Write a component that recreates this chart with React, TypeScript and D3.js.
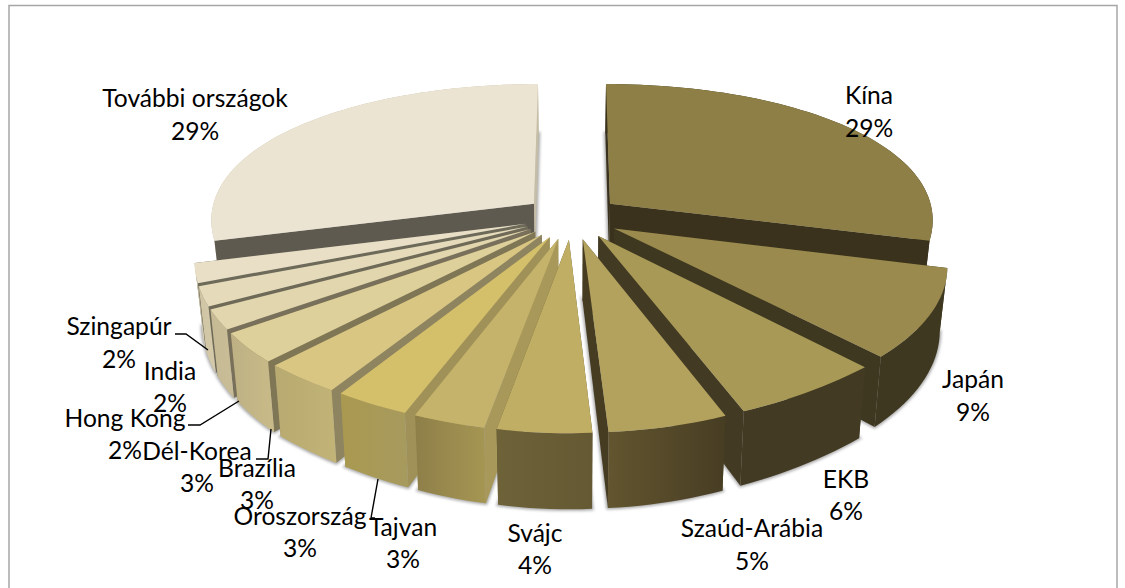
import * as d3 from "d3";

// Shares of the foreign holdings, listed clockwise from twelve o'clock.
const categories = ["Kína", "Japán", "EKB", "Szaúd-Arábia", "Svájc", "Tajvan", "Oroszország", "Brazília", "Dél-Korea", "Hong Kong", "India", "Szingapúr", "További országok"];
const shares = [29, 9, 6, 5, 4, 3, 3, 3, 3, 2, 2, 2, 29];

// Palette per slice.
const topColors = ["#8E7F46", "#9A8A4E", "#A89A56", "#B3A15E", "#C0AE65", "#C6B36B", "#D4BF6B", "#D9C683", "#DED09A", "#E1D6AE", "#E5DBBB", "#E8DFC6", "#EBE4D2"];
const wallLeft = ["#3A321C", "#3F3820", "#433A23", "#62552F", "#6E6239", "#8E7F49", "#A99950", "#B8AA70", "#BDB084", "#C6BA95", "#CFC5A3", "#D6CDB0", "#C5BDA6"];
const wallRight = ["#3A321C", "#3F3820", "#433A23", "#473D23", "#655933", "#A69653", "#A79A5E", "#C2B377", "#C9BB88", "#C9BD98", "#D4CAAA", "#D9D0B5", "#C5BDA6"];
const radialColors = ["#3A321C", "#3F3820", "#433A23", "#463C22", "#5E5430", "#A8995A", "#9F9158", "#8E8560", "#7F7655", "#78705A", "#6F6A58", "#6E6A5A", "#5F5A50"];

// Label anchors (horizontal centre, first line and second line centres).
const labelAnchors: [number, number, number][] = [
  [869, 94, 127], [973, 378, 411], [846, 478, 510], [752, 527, 560], [535, 532, 564],
  [403, 526, 558], [300, 515, 547], [257, 467, 499], [197, 450, 482], [125, 417, 449],
  [170, 370, 402], [119, 325, 358], [195, 97, 130],
];

// Elbow leader lines for the crowded labels.
const leaders: [number, number][][] = [
  [[175, 334], [186, 334], [208, 350]],
  [[188, 425], [200, 425], [239, 401]],
  [[256, 459], [268, 459], [271, 429]],
  [[375, 518], [371, 518], [378, 479]],
];

const WIDTH = 1125;
const HEIGHT = 588;
const CX = 572;
const CY = 217;
const RY = 147;
const PERSPECTIVE_Y = 0.19;
const EXPLODE = 0.15;
const THICKNESS = 59.5;
const BOTTOM_SHRINK = 0.98;

// Horizontal radius grows towards the viewer and levels off at the front of the pie.
const radiusAtDepth = d3.scaleLinear().domain([-1.15, 0.16, 0.85, 1.2]).range([285, 329, 383, 383]);

type Pt = [number, number];

// Projects a point of the unit pie plane onto the screen, on the top or the bottom face.
function project(x: number, y: number, bottom = false): Pt {
  const wy = 1 - PERSPECTIVE_Y * y;
  const sx = radiusAtDepth(y) * x;
  const sy = CY + (RY * y) / wy;
  return bottom ? [CX + sx * BOTTOM_SHRINK, sy + THICKNESS / wy] : [CX + sx, sy];
}

const pieLayout = d3.pie<number>().sort(null)(shares);
const linePath = d3.line<Pt>();

const slices = pieLayout.map((d, i) => {
  const mid = (d.startAngle + d.endAngle) / 2;
  const ox = EXPLODE * Math.sin(mid);
  const oy = -EXPLODE * Math.cos(mid);
  const steps = Math.max(4, Math.ceil((d.endAngle - d.startAngle) / 0.03));
  const angles = d3.range(steps + 1).map((k) => d.startAngle + ((d.endAngle - d.startAngle) * k) / steps);
  const rim = (bottom: boolean) => angles.map((a) => project(ox + Math.sin(a), oy - Math.cos(a), bottom));
  const apexTop = project(ox, oy);
  const apexBottom = project(ox, oy, true);
  const topRim = rim(false);
  const bottomRim = rim(true);
  return {
    i,
    depth: -Math.cos(mid),
    top: linePath([apexTop, ...topRim])! + "Z",
    floor: linePath([apexBottom, ...bottomRim])! + "Z",
    outer: linePath([...topRim, ...bottomRim.slice().reverse()])! + "Z",
    startWall: linePath([apexTop, topRim[0], bottomRim[0], apexBottom])! + "Z",
    endWall: linePath([apexTop, topRim[steps], bottomRim[steps], apexBottom])! + "Z",
  };
});

const paintOrder = d3.sort(slices, (s) => s.depth);
const labelFont = "Lato, Carlito, sans-serif";

export default function App() {
  return (
    <svg width={WIDTH} height={HEIGHT} style={{ position: "absolute", left: 0, top: 0, background: "#fff" }}>
      <defs>
        <filter id="pie-shadow" x="-10%" y="-10%" width="120%" height="120%">
          <feGaussianBlur stdDeviation="1.6" />
        </filter>
        {slices.map((s) => (
          <linearGradient key={s.i} id={`wall-${s.i}`} x1="0" x2="1" y1="0" y2="0">
            <stop offset="0" stopColor={wallLeft[s.i]} />
            <stop offset="1" stopColor={wallRight[s.i]} />
          </linearGradient>
        ))}
      </defs>

      <rect x={9} y={5.5} width={1108} height={600} fill="none" stroke="#A6A6A6" strokeWidth={1.5} />

      <g filter="url(#pie-shadow)" fill="#8A8A8A" stroke="#8A8A8A" strokeWidth={3} opacity={0.75}>
        {slices.map((s) => (
          <path key={s.i} d={s.floor} />
        ))}
      </g>

      {paintOrder.map((s) => {
        const outer = <path d={s.outer} fill={`url(#wall-${s.i})`} />;
        return (
          <g key={s.i}>
            {/* The rim of a rear slice sits behind its cut faces; a front slice is the reverse. */}
            {s.depth < 0 && outer}
            <path d={s.startWall} fill={radialColors[s.i]} />
            <path d={s.endWall} fill={s.i === 12 ? wallLeft[12] : radialColors[s.i]} />
            {s.depth >= 0 && outer}
            <path d={s.top} fill={topColors[s.i]} />
          </g>
        );
      })}

      <g fill="none" stroke="#000" strokeWidth={1.4}>
        {leaders.map((pts, i) => (
          <path key={i} d={linePath(pts)!} />
        ))}
      </g>

      <g fontFamily={labelFont} fontSize={24.6} fill="#000" textAnchor="middle" dominantBaseline="central">
        {categories.map((name, i) => (
          <g key={name}>
            <text x={labelAnchors[i][0]} y={labelAnchors[i][1]}>{name}</text>
            <text x={labelAnchors[i][0]} y={labelAnchors[i][2]}>{`${shares[i]}%`}</text>
          </g>
        ))}
      </g>
    </svg>
  );
}
